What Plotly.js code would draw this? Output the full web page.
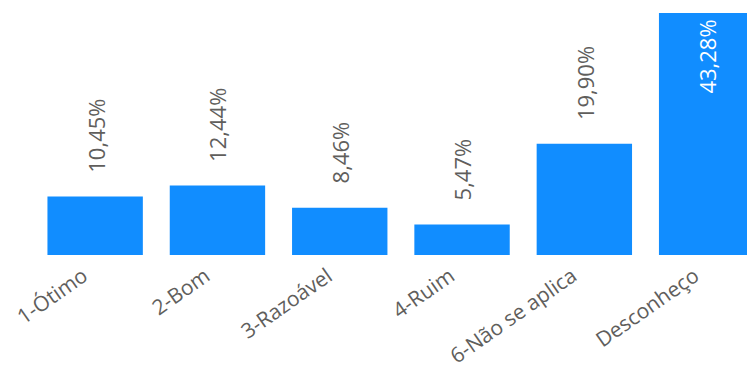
<!DOCTYPE html>
<html>
<head>
<meta charset="utf-8">
<script src="https://cdn.plot.ly/plotly-3.0.1.min.js"></script>
<style>
html,body{margin:0;padding:0;background:#fff;overflow:hidden;}
#chart{width:747px;height:365px;}
</style>
</head>
<body>
<div id="chart"></div>
<script>
const categories = ["1-Ótimo", "2-Bom", "3-Razoável", "4-Ruim", "6-Não se aplica", "Desconheço"];
const values = [10.45, 12.44, 8.46, 5.47, 19.90, 43.28];
const labels = values.map(v => v.toFixed(2).replace('.', ',') + '%');

const FONT = '"Segoe UI", "Open Sans", "Noto Sans", sans-serif';
const maxVal = Math.max(...values);

const annotations = categories.map((c, i) => {
  const inside = values[i] === maxVal;
  return {
    x: c, y: values[i], xref: 'x', yref: 'y',
    text: labels[i], showarrow: false, textangle: -90,
    xanchor: 'center', yanchor: inside ? 'top' : 'bottom',
    yshift: inside ? -5 : 22,
    font: {family: FONT, size: 22, color: inside ? '#ffffff' : '#605E5C'}
  };
});

const trace = {
  type: 'bar', x: categories, y: values,
  marker: {color: '#118DFF'},
  hoverinfo: 'none'
};

const layout = {
  width: 747, height: 365,
  margin: {l: 34, r: 0, t: 0, b: 110, pad: 0},
  paper_bgcolor: '#ffffff', plot_bgcolor: '#ffffff',
  bargap: 0.22,
  showlegend: false,
  xaxis: {
    type: 'category', range: [-0.5, 5.33],
    tickangle: -35, ticks: '', showline: false, showgrid: false, zeroline: false,
    ticklabelshift: -12, ticklabelstandoff: 4,
    tickfont: {family: FONT, size: 21, color: '#605E5C'}
  },
  yaxis: {
    range: [0, 45.6], visible: false, showgrid: false, zeroline: false
  },
  annotations: annotations
};

Plotly.newPlot('chart', [trace], layout, {displayModeBar: false, staticPlot: true});
</script>
</body>
</html>
